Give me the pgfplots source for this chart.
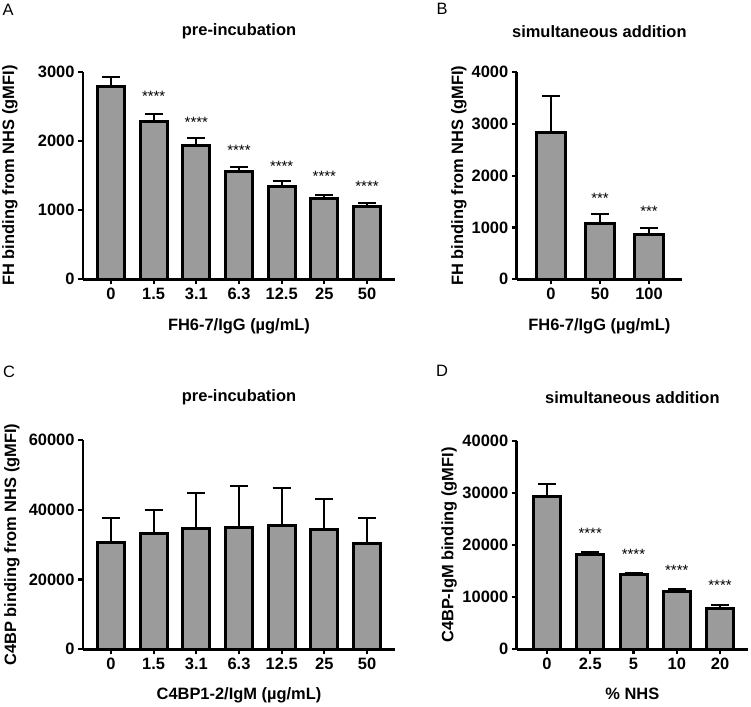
\documentclass[border=0pt]{standalone}
\usepackage{pgfplots}
\pgfplotsset{compat=1.18}
\usepackage{pgfplotstable}
\usepackage{fontspec}
\setmainfont{Liberation Sans}
\definecolor{bargray}{RGB}{155,155,155}

\pgfplotstableread{
x y e
0 2785 135
1 2275 121
2 1928 115
3 1565 58
4 1348 68
5 1164 53
6 1048 53
}\dataA
\pgfplotstableread{
x y e
0 2838 706
1 1081 174
2 869 127
}\dataB
\pgfplotstableread{
x y e
0 30560 7170
1 33060 6880
2 34490 10230
3 34980 11840
4 35440 10890
5 34290 8890
6 30190 7450
}\dataC
\pgfplotstableread{
x y e
0 29300 2440
1 18170 510
2 14270 380
3 11060 520
4 7800 650
}\dataD

\newcommand{\bigf}{\fontsize{16.5}{18}\selectfont}
\pgfplotsset{
  panel/.style={
    scale only axis, clip=false,
    axis lines=left, axis line style={-, line width=2.5bp, black},
    ymin=0, ybar, bar width=27bp,
    xtick=data, tick align=outside, major tick length=5bp,
    tick style={line width=2.2bp, black},
    minor tick num=0,
    tick label style={font=\bfseries\bigf, /pgf/number format/assume math mode=true},
    scaled y ticks=false,
    yticklabel style={/pgf/number format/.cd, fixed, 1000 sep={}},
    label style={font=\bfseries\bigf},
    title style={font=\bfseries\bigf, at={(axis description cs:0.5,1)}, anchor=center},
  },
  barplot/.style={fill=bargray, draw=black, line width=3bp,
    error bars/.cd, y dir=plus, y explicit,
    error bar style={line width=2bp, black},
    error mark=|, error mark options={line width=2bp, mark size=9bp, black}},
}
\newcommand{\stars}[3]{\node[font=\fontsize{15}{15}\selectfont, anchor=center, yshift=-3.2bp] at (axis cs:#1,#2) {#3};}

\begin{document}
\begin{tikzpicture}
\useasboundingbox (0,0) rectangle (751bp,-707bp);

% Panel A
\begin{axis}[panel, at={(83bp,-279.3bp)}, anchor=south west,
  width=312bp, height=207.6bp, xmin=-0.656, xmax=6.656, ymax=3000,
  ytick={0,1000,2000,3000},
  xticklabels={0,1.5,3.1,6.3,12.5,25,50},
  title={pre-incubation}, title style={yshift=34bp},
  xlabel={FH6-7/IgG (µg/mL)}, xlabel style={at={(axis description cs:0.5,0)}, anchor=center, yshift=-47bp},
  ylabel={FH binding from NHS (gMFI)}, ylabel style={at={(axis description cs:-0.234,0.5)}, anchor=center},
]
\addplot[barplot] table[x=x, y=y, y error=e] {\dataA};
\stars{1}{2697}{****}
\stars{2}{2321}{****}
\stars{3}{1916}{****}
\stars{4}{1681}{****}
\stars{5}{1540}{****}
\stars{6}{1387}{****}
\end{axis}

% Panel B
\begin{axis}[panel, at={(516.7bp,-279.3bp)}, anchor=south west,
  width=165.3bp, height=207.3bp, xmin=-0.7, xmax=2.673, ymax=4000,
  bar width=29bp,
  ytick={0,1000,2000,3000,4000},
  xticklabels={0,50,100},
  title={simultaneous addition}, title style={yshift=34bp},
  xlabel={FH6-7/IgG (µg/mL)}, xlabel style={at={(axis description cs:0.5,0)}, anchor=center, yshift=-47bp},
  ylabel={FH binding from NHS (gMFI)}, ylabel style={at={(axis description cs:-0.35,0.5)}, anchor=center},
]
\addplot[barplot] table[x=x, y=y, y error=e] {\dataB};
\stars{1}{1627}{***}
\stars{2}{1371}{***}
\end{axis}

% Panel C
\begin{axis}[panel, at={(83bp,-649.3bp)}, anchor=south west,
  width=312bp, height=209.3bp, xmin=-0.656, xmax=6.656, ymax=60000,
  ytick={0,20000,40000,60000},
  xticklabels={0,1.5,3.1,6.3,12.5,25,50},
  title={pre-incubation}, title style={yshift=37bp},
  xlabel={C4BP1-2/IgM (µg/mL)}, xlabel style={at={(axis description cs:0.5,0)}, anchor=center, yshift=-46bp},
  ylabel={C4BP binding from NHS (gMFI)}, ylabel style={at={(axis description cs:-0.228,0.5)}, anchor=center},
]
\addplot[barplot] table[x=x, y=y, y error=e] {\dataC};
\end{axis}

% Panel D
\begin{axis}[panel, at={(516.7bp,-649.3bp)}, anchor=south west,
  width=231.3bp, height=208.3bp, xmin=-0.70, xmax=4.647, ymax=40000,
  ytick={0,10000,20000,30000,40000},
  xticklabels={0,2.5,5,10,20},
  title={simultaneous addition}, title style={yshift=37bp},
  xlabel={\% NHS}, xlabel style={at={(axis description cs:0.5,0)}, anchor=center, yshift=-45bp},
  ylabel={C4BP-IgM binding (gMFI)}, ylabel style={at={(axis description cs:-0.292,0.5)}, anchor=center},
]
\addplot[barplot] table[x=x, y=y, y error=e] {\dataD};
\stars{1}{22910}{****}
\stars{2}{18880}{****}
\stars{3}{15750}{****}
\stars{4}{12870}{****}
\end{axis}

% panel letters
\node[font=\bigf] at (8bp,-9.5bp) {A};
\node[font=\bigf] at (442bp,-8.5bp) {B};
\node[font=\bigf] at (9bp,-371.5bp) {C};
\node[font=\bigf] at (442bp,-371bp) {D};
\end{tikzpicture}
\end{document}
